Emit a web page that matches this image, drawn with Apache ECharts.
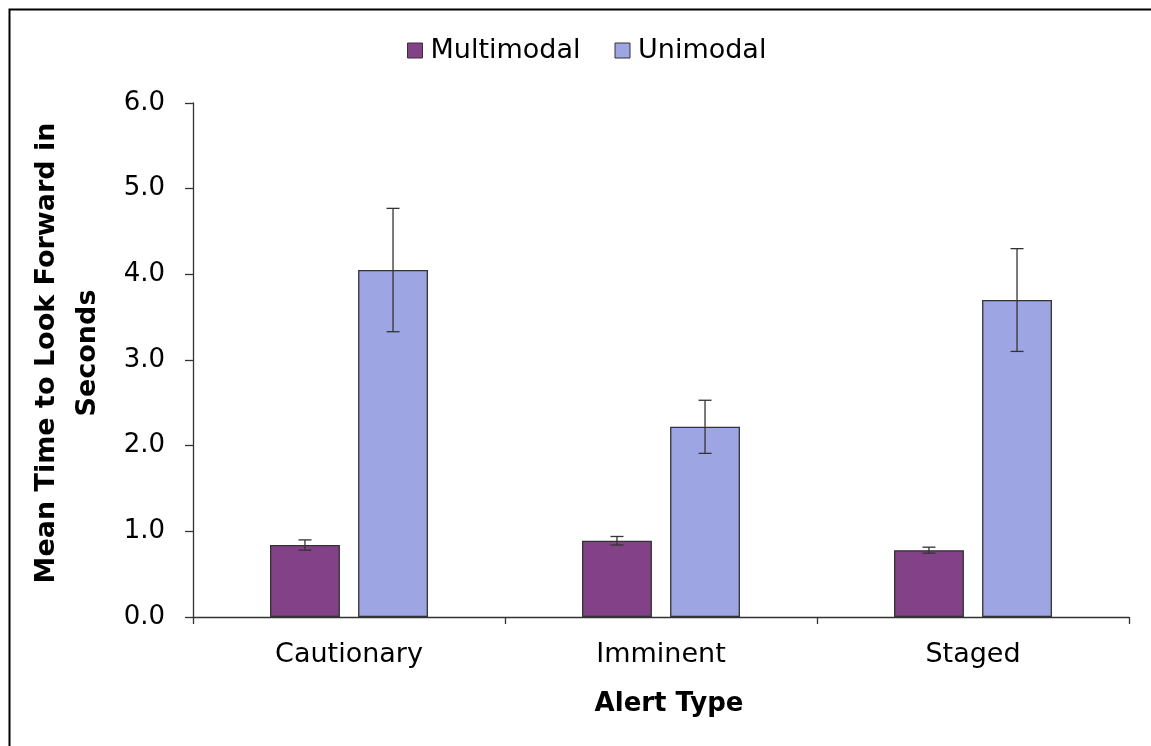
<!DOCTYPE html>
<html>
<head>
<meta charset="utf-8">
<script src="https://cdn.jsdelivr.net/npm/echarts@6/dist/echarts.min.js"></script>
<style>html,body{margin:0;padding:0;background:#fff;}#c{width:1151px;height:746px;}</style>
</head>
<body>
<div id="c"></div>
<script>
var categories = ['Cautionary', 'Imminent', 'Staged'];
var multimodal = [0.84, 0.89, 0.78];
var unimodal = [4.05, 2.22, 3.70];
var multimodalErr = [0.06, 0.05, 0.035];
var unimodalErr = [0.72, 0.31, 0.60];
var yTicks = [0, 1, 2, 3, 4, 5, 6];

var FONT = '"DejaVu Sans", "Liberation Sans", Arial, sans-serif';
var BAR_W = 0.224, BAR_GAP = 0.26;

function errSeries(vals, errs, sign) {
  return {
    type: 'custom',
    z: 5,
    silent: true,
    data: vals.map(function (v, i) { return [i, v, errs[i]]; }),
    renderItem: function (params, api) {
      var i = api.value(0), v = api.value(1), e = api.value(2);
      var band = api.size([1, 0])[0];
      var w = band * BAR_W;
      var off = sign * (w + w * BAR_GAP) / 2;
      var top = api.coord([i, v + e]);
      var bot = api.coord([i, v - e]);
      var x = top[0] + off;
      var cap = 6.5;
      var st = { stroke: '#333333', lineWidth: 1.3 };
      return {
        type: 'group',
        children: [
          { type: 'line', shape: { x1: x, y1: top[1], x2: x, y2: bot[1] }, style: st },
          { type: 'line', shape: { x1: x - cap, y1: top[1], x2: x + cap, y2: top[1] }, style: st },
          { type: 'line', shape: { x1: x - cap, y1: bot[1], x2: x + cap, y2: bot[1] }, style: st }
        ]
      };
    }
  };
}

var chart = echarts.init(document.getElementById('c'));
chart.setOption({
  animation: false,
  backgroundColor: '#ffffff',
  textStyle: { fontFamily: FONT },
  graphic: [{
    type: 'rect', left: 7, top: 7,
    shape: { x: 0, y: 0, width: 1200, height: 800 },
    style: { fill: 'none', stroke: '#000', lineWidth: 2 }
  }],
  legend: {
    top: 32, left: 402,
    icon: 'rect',
    itemWidth: 15, itemHeight: 15, itemGap: 34,
    textStyle: { fontFamily: FONT, fontSize: 27, color: '#000', padding: [0, 0, 0, 3] },
    data: [
      { name: 'Multimodal', itemStyle: { color: '#834188', borderColor: '#333', borderWidth: 1 } },
      { name: 'Unimodal', itemStyle: { color: '#9DA6E2', borderColor: '#333', borderWidth: 1 } }
    ]
  },
  grid: { left: 193, right: 22, top: 103, bottom: 129, containLabel: false },
  xAxis: {
    type: 'category',
    data: categories,
    name: 'Alert Type',
    nameLocation: 'middle',
    nameGap: 74,
    nameTextStyle: { fontFamily: FONT, fontSize: 26, fontWeight: 'bold', color: '#000', padding: [0, 0, 0, 16] },
    axisLine: { lineStyle: { color: '#333', width: 1.3 } },
    axisTick: { show: true, length: 7, lineStyle: { color: '#333', width: 1.3 } },
    axisLabel: { fontFamily: FONT, fontSize: 27, color: '#000', margin: 24 }
  },
  yAxis: {
    type: 'value',
    min: 0, max: 6, interval: 1,
    name: 'Mean Time to Look Forward in\nSeconds',
    nameLocation: 'middle',
    nameGap: 85,
    nameTextStyle: { fontFamily: FONT, fontSize: 27, fontWeight: 'bold', color: '#000', lineHeight: 41, padding: [0, 0, 0, 14] },
    axisLine: { show: true, lineStyle: { color: '#333', width: 1.3 } },
    axisTick: { show: true, length: 8, lineStyle: { color: '#333', width: 1.3 } },
    splitLine: { show: false },
    axisLabel: {
      fontFamily: FONT, fontSize: 26, color: '#000', margin: 28,
      formatter: function (v) { return yTicks.indexOf(v) >= 0 ? v.toFixed(1) : ''; }
    }
  },
  series: [
    {
      name: 'Multimodal', type: 'bar', data: multimodal,
      barWidth: (BAR_W * 100) + '%', barGap: (BAR_GAP * 100) + '%',
      itemStyle: { color: '#834188', borderColor: '#333', borderWidth: 1.3 }
    },
    {
      name: 'Unimodal', type: 'bar', data: unimodal,
      barWidth: (BAR_W * 100) + '%', barGap: (BAR_GAP * 100) + '%',
      itemStyle: { color: '#9DA6E2', borderColor: '#333', borderWidth: 1.3 }
    },
    errSeries(multimodal, multimodalErr, -1),
    errSeries(unimodal, unimodalErr, 1)
  ]
});
</script>
</body>
</html>
